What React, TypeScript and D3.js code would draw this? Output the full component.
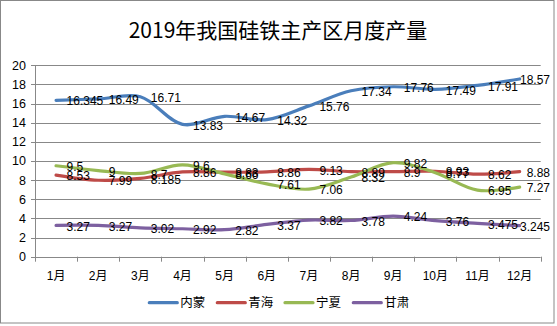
import React from "react";
import * as d3 from "d3";

const months = ["1月", "2月", "3月", "4月", "5月", "6月", "7月", "8月", "9月", "10月", "11月", "12月"];
const neimeng = [16.345, 16.49, 16.71, 13.83, 14.67, 14.32, 15.76, 17.34, 17.76, 17.49, 17.91, 18.57];
const qinghai = [8.53, 7.99, 8.185, 8.86, 8.83, 8.86, 9.13, 8.89, 8.9, 8.93, 8.62, 8.88];
const ningxia = [9.5, 9, 8.7, 9.6, 8.66, 7.61, 7.06, 8.32, 9.82, 8.77, 6.95, 7.27];
const gansu = [3.27, 3.27, 3.02, 2.92, 2.82, 3.37, 3.82, 3.78, 4.24, 3.76, 3.475, 3.245];
const seriesNames = ["内蒙", "青海", "宁夏", "甘肃"];
const colors = ["#4A7EBB", "#BE4B48", "#98B954", "#7D60A0"];
const yTicks = [0, 2, 4, 6, 8, 10, 12, 14, 16, 18, 20];
const title = "2019年我国硅铁主产区月度产量";

const W = 557;
const H = 326;
const left = 35;
const right = 540.7;
const top = 65.3;
const bottom = 256.7;
const FONT = "'Liberation Sans', Arial, 'Noto Sans CJK SC', sans-serif";
const CJK = "'Noto Sans CJK SC', 'Liberation Sans', sans-serif";

export default function App() {
  const allSeries = [neimeng, qinghai, ningxia, gansu];
  const x = d3.scaleBand<string>().domain(months).range([left, right]).padding(0);
  const y = d3.scaleLinear().domain([0, 20]).range([bottom, top]);
  const cx = (m: string) => (x(m) as number) + x.bandwidth() / 2;
  const line = d3
    .line<number>()
    .x((_, i) => cx(months[i]))
    .y((d) => y(d))
    .curve(d3.curveCatmullRom.alpha(0.5));

  const bandEdges = months.map((m) => x(m) as number).concat([right]);
  const legendX = [149.3, 217.3, 285, 353.3];
  const last = months.length - 1;

  return (
    <svg
      width={W}
      height={H}
      style={{ position: "absolute", left: 0, top: 0, background: "#fff" }}
    >
      <rect x={0.5} y={0.5} width={553.5} height={322.5} fill="#fff" stroke="#888" strokeWidth={1} />
      <text x={278} y={38} textAnchor="middle" fontFamily={CJK} fontSize={21} fill="#000">
        {title}
      </text>
      {yTicks.map((t) => (
        <g key={t}>
          <line x1={left - 4} x2={right} y1={Math.round(y(t)) + 0.5} y2={Math.round(y(t)) + 0.5} stroke="#888" strokeWidth={1} />
          <text x={26} y={y(t)} dy="0.35em" textAnchor="end" fontFamily={FONT} fontSize={12.5} fill="#000">
            {t}
          </text>
        </g>
      ))}
      <line x1={left + 0.5} x2={left + 0.5} y1={top} y2={bottom + 4} stroke="#888" strokeWidth={1} />
      {bandEdges.map((e, i) => (
        <line key={i} x1={Math.round(e) + 0.5} x2={Math.round(e) + 0.5} y1={bottom} y2={bottom + 5} stroke="#888" strokeWidth={1} />
      ))}
      {months.map((m) => (
        <text key={m} x={cx(m)} y={280} textAnchor="middle" fontFamily={FONT} fontSize={12} fill="#000">
          {m}
        </text>
      ))}
      {allSeries.map((s, k) => (
        <path key={k} d={line(s) || ""} fill="none" stroke={colors[k]} strokeWidth={3.2} strokeLinejoin="round" strokeLinecap="round" />
      ))}
      {allSeries.map((s, k) =>
        s.map((v, i) => (
          <text
            key={`${k}-${i}`}
            x={i === last ? 550 : cx(months[i]) + 10.5}
            y={y(v) + 1}
            dy="0.35em"
            textAnchor={i === last ? "end" : "start"}
            fontFamily={FONT}
            fontSize={12}
            fill="#000"
          >
            {v}
          </text>
        ))
      )}
      {seriesNames.map((n, k) => (
        <g key={n}>
          <line x1={legendX[k]} x2={legendX[k] + 28} y1={302.7} y2={302.7} stroke={colors[k]} strokeWidth={3.2} strokeLinecap="round" />
          <text x={legendX[k] + 31} y={302.7} dy="0.35em" fontFamily={CJK} fontSize={12.5} fill="#000">
            {n}
          </text>
        </g>
      ))}
    </svg>
  );
}
